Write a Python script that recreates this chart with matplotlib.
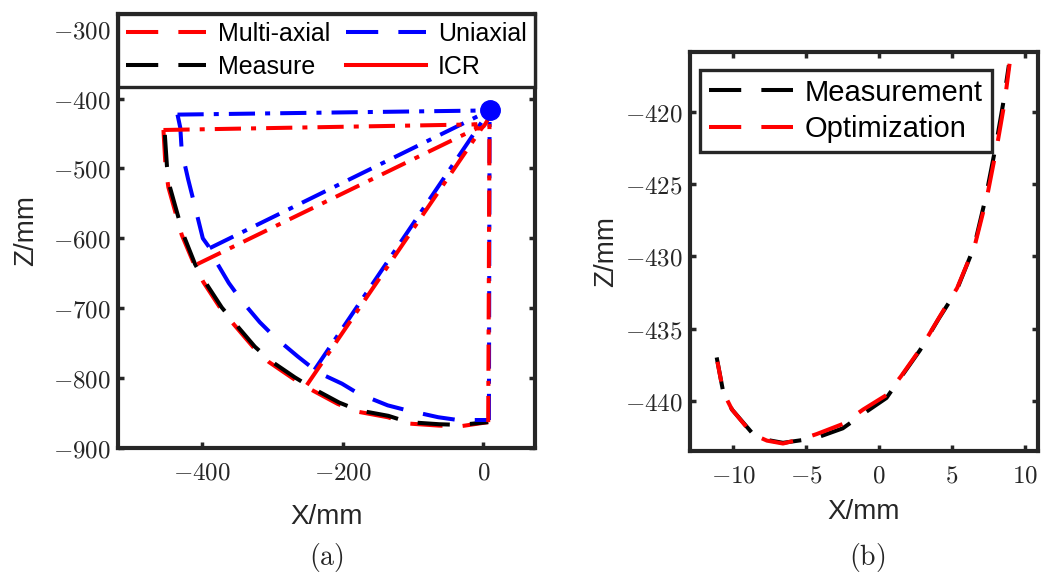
import matplotlib
matplotlib.use("Agg")
import matplotlib.pyplot as plt
from matplotlib.ticker import FuncFormatter
from matplotlib.lines import Line2D

plt.rcParams["font.family"] = ["Liberation Sans", "DejaVu Sans"]
plt.rcParams["mathtext.fontset"] = "cm"

DARK = "#262626"
RED = "#ff0000"
BLUE = "#0000ff"

# ---- (a) knee trajectories in the sagittal plane ----
measure_x = [-453, -450, -446, -434, -427, -410, -396, -372, -353, -325, -303,
             -268, -242, -205, -178, -135, -107, -63, -33, 7]
measure_z = [-452, -497, -526, -569, -594, -637, -662, -699, -722, -755, -775,
             -799, -815, -835, -846, -854, -863, -866, -867, -863]

multi_x = [-455, -452, -448, -436, -429, -411, -398, -374, -355, -327, -305,
           -270, -244, -207, -179, -136, -107, -63, -33, 7]
multi_z = [-445, -498, -527, -570, -595, -638, -663, -700, -723, -756, -777,
           -801, -817, -837, -848, -856, -865, -868, -869, -863]

uni_x = [-435, -431, -429, -420, -413, -399, -389, -382, -362, -344, -318,
         -296, -264, -235, -201, -178, -136, -109, -64, -36, 7]
uni_z = [-423, -442, -475, -515, -543, -600, -614, -630, -664, -689, -720,
         -742, -769, -792, -808, -822, -839, -846, -856, -860, -860]

# poses where the shank is drawn back to its rotation centre
multi_pose_x = [-455, -407, -251, 7]
multi_pose_z = [-445, -637, -810, -863]
icr_pose_idx = [0, 3, 9, 19]
uni_pose_x = [-435, -389, -240, 8]
uni_pose_z = [-423, -614, -788, -860]
uni_center_x = 9
uni_center_z = -417

# ---- (b) instantaneous centre of rotation ----
icr_meas_x = [-11.15, -10.7, -10.1, -8.65, -7.7, -6.6, -5.2, -4.3, -2.5, -1.1,
              0.5, 1.4, 2.8, 4.1, 5.3, 6.5, 7.3, 8.0, 8.5, 8.9]
icr_meas_z = [-437.0, -439.4, -440.6, -442.3, -442.7, -442.9, -442.7, -442.55,
              -441.9, -440.9, -439.8, -438.5, -436.5, -434.3, -432.4, -429.4,
              -426.0, -422.4, -419.5, -416.8]
icr_opt_x = [-11.1, -10.7, -10.1, -8.7, -7.7, -6.6, -5.2, -4.3, -2.5, -1.1,
             0.5, 1.5, 2.9, 4.2, 5.35, 6.55, 7.4, 8.1, 8.6, 8.95]
icr_opt_z = [-437.3, -439.4, -440.6, -442.3, -442.75, -442.95, -442.6, -442.3,
             -441.6, -440.6, -439.6, -438.3, -436.3, -434.1, -432.2, -429.3,
             -425.9, -422.3, -419.4, -416.7]

LW = 2.9
DASH = (0, (8, 5))
DASHDOT = (0, (6.5, 2.5, 1.25, 2.5))

fig = plt.figure(figsize=(10.43, 5.75), dpi=100)
ax_a = fig.add_axes([0.1129, 0.2209, 0.4000, 0.7548])
ax_b = fig.add_axes([0.6613, 0.2148, 0.3339, 0.6944])


def style_axes(ax):
    for sp in ax.spines.values():
        sp.set_linewidth(3.0)
        sp.set_color(DARK)
    ax.tick_params(direction="in", length=4, width=2.5, color=DARK,
                   top=True, right=True, labelsize=18, labelcolor=DARK)
    ax.tick_params(axis="x", pad=9)
    ax.tick_params(axis="y", pad=5)
    fmt = FuncFormatter(lambda v, p: f"${v:g}$")
    ax.xaxis.set_major_formatter(fmt)
    ax.yaxis.set_major_formatter(fmt)


# --- panel (a) ---
ax_a.plot(multi_x, multi_z, color=RED, lw=LW, linestyle=DASH, zorder=2)
ax_a.plot(measure_x, measure_z, color="black", lw=LW, linestyle=DASH, zorder=3)
ax_a.plot(uni_x, uni_z, color=BLUE, lw=LW, linestyle=DASH, zorder=3)

for px, pz in zip(uni_pose_x, uni_pose_z):
    ax_a.plot([px, uni_center_x], [pz, uni_center_z], color=BLUE, lw=LW,
              linestyle=DASHDOT, zorder=4)
for px, pz, i in zip(multi_pose_x, multi_pose_z, icr_pose_idx):
    ax_a.plot([px, icr_meas_x[i]], [pz, icr_meas_z[i]], color=RED, lw=LW,
              linestyle=DASHDOT, zorder=4)

ax_a.plot(icr_meas_x, icr_meas_z, color=RED, lw=LW, zorder=5)
ax_a.plot(uni_center_x, uni_center_z, "o", color=BLUE, ms=14, zorder=6)

ax_a.set_xlim(-520, 73.5)
ax_a.set_ylim(-900, -279)
ax_a.set_xticks([-400, -200, 0])
ax_a.set_yticks(range(-900, -299, 100))
style_axes(ax_a)
ax_a.set_xlabel("X/mm", fontsize=20, color=DARK, labelpad=14)
ax_a.set_ylabel("Z/mm", fontsize=20, color=DARK, labelpad=10)

handles_a = [
    Line2D([], [], color=RED, lw=LW, linestyle=DASH),
    Line2D([], [], color="black", lw=LW, linestyle=DASH),
    Line2D([], [], color=BLUE, lw=LW, linestyle=DASH),
    Line2D([], [], color=RED, lw=LW),
]
labels_a = ["Multi-axial", "Measure", "Uniaxial", "ICR"]
leg_a = ax_a.legend(handles_a, labels_a, ncol=2, loc="upper left",
                    bbox_to_anchor=(0, 0, 1, 1), mode="expand", borderaxespad=0,
                    fontsize=18, handlelength=3.2, handletextpad=0.5,
                    columnspacing=0.8, fancybox=False, framealpha=1,
                    edgecolor=DARK, labelspacing=0.35, borderpad=0.32)
leg_a.get_frame().set_linewidth(2.4)
leg_a.set_zorder(10)

# --- panel (b) ---
ax_b.plot(icr_meas_x, icr_meas_z, color="black", lw=LW, linestyle=DASH)
ax_b.plot(icr_opt_x, icr_opt_z, color=RED, lw=LW, linestyle=(3, (8, 5)))

ax_b.set_xlim(-13.0, 10.9)
ax_b.set_ylim(-443.5, -415.9)
ax_b.set_xticks([-10, -5, 0, 5, 10])
ax_b.set_yticks([-440, -435, -430, -425, -420])
style_axes(ax_b)
ax_b.set_xlabel("X/mm", fontsize=20, color=DARK, labelpad=8)
ax_b.set_ylabel("Z/mm", fontsize=20, color=DARK, labelpad=4)

handles_b = [
    Line2D([], [], color="black", lw=LW, linestyle=DASH),
    Line2D([], [], color=RED, lw=LW, linestyle=DASH),
]
leg_b = ax_b.legend(handles_b, ["Measurement", "Optimization"], loc="upper left",
                    bbox_to_anchor=(0.029, 0.956), borderaxespad=0,
                    fontsize=21, handlelength=2.9, handletextpad=0.4,
                    fancybox=False, framealpha=1, edgecolor=DARK,
                    labelspacing=0.3, borderpad=0.3)
leg_b.get_frame().set_linewidth(2.4)

fig.text(326 / 1043, 1 - 557 / 575, r"$(\mathrm{a})$", fontsize=20,
         ha="center", va="center", color=DARK)
fig.text(867 / 1043, 1 - 557 / 575, r"$(\mathrm{b})$", fontsize=20,
         ha="center", va="center", color=DARK)

fig.savefig("out.png", dpi=100)
